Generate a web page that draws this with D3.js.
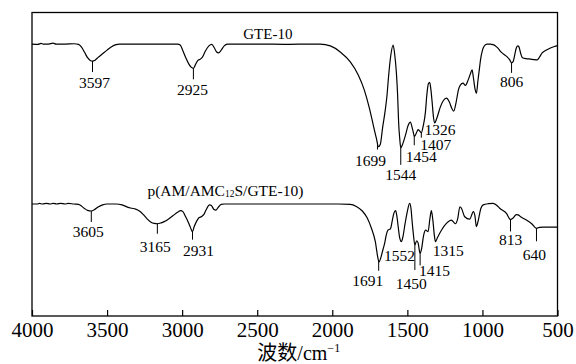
<!DOCTYPE html>
<html>
<head>
<meta charset="utf-8">
<script src="https://cdn.jsdelivr.net/npm/d3@7"></script>
<style>
  html, body { margin: 0; padding: 0; background: #fff; }
  svg { display: block; }
  text { font-family: "Liberation Serif", "Times New Roman", "Noto Sans CJK SC", serif; fill: #000; }
</style>
</head>
<body>
<svg id="chart" width="576" height="364"></svg>
<script>
// ---------------- data ----------------
const xTicks = [4000, 3500, 3000, 2500, 2000, 1500, 1000, 500];
const xTitle = "波数/cm";
const xTitleSup = "−1";

const seriesNames = ["GTE-10", "p(AM/AMC12S/GTE-10)"];

// [wavenumber (cm-1), transmittance (a.u.)]
const gteSpectrum = [
  [4000, 89.6], [3960, 89.5], [3940, 89.8], [3925, 89.6], [3890, 89.6], [3860, 89.9], [3840, 89.6],
  [3780, 89.6], [3720, 89.7], [3690, 89.5], [3670, 88.6], [3650, 86.9], [3630, 85.1], [3612, 84.2],
  [3597, 84.0], [3580, 84.3], [3560, 85.2], [3530, 86.4], [3500, 87.6], [3470, 88.7], [3440, 89.4],
  [3420, 89.6], [3200, 89.6], [3030, 89.6], [3013, 89.3], [2995, 87.4], [2975, 85.0], [2955, 83.0],
  [2940, 82.0], [2925, 81.6], [2910, 83.0], [2895, 84.2], [2880, 84.6], [2865, 85.3], [2845, 87.3],
  [2822, 89.0], [2802, 89.5], [2785, 88.3], [2770, 87.0], [2758, 86.7], [2740, 87.6], [2720, 89.0],
  [2700, 89.6], [2500, 89.6], [2300, 89.5], [2150, 89.6], [2080, 89.6], [2013, 89.0], [1947, 87.0],
  [1880, 83.7], [1827, 79.4], [1787, 74.5], [1753, 68.5], [1727, 62.9], [1707, 58.7], [1692, 55.8],
  [1680, 56.6], [1665, 62.0], [1647, 67.9], [1635, 73.0], [1625, 79.0], [1610, 86.0], [1595, 89.3],
  [1585, 86.5], [1573, 80.1], [1565, 73.0], [1558, 63.6], [1550, 58.0], [1544, 55.4], [1530, 56.8],
  [1513, 59.5], [1495, 62.8], [1480, 63.9], [1465, 61.5], [1452, 59.2], [1440, 60.3], [1428, 61.4],
  [1417, 60.9], [1407, 60.4], [1395, 62.5], [1380, 67.0], [1370, 73.0], [1360, 76.5], [1351, 77.0],
  [1343, 74.5], [1335, 70.5], [1326, 65.5], [1318, 63.6], [1305, 65.0], [1280, 68.9], [1260, 71.0],
  [1240, 71.8], [1220, 70.5], [1205, 68.5], [1191, 67.5], [1175, 70.5], [1160, 74.5], [1147, 76.1],
  [1129, 76.7], [1113, 76.0], [1095, 77.8], [1080, 79.8], [1069, 81.1], [1060, 78.5], [1050, 75.0],
  [1040, 73.4], [1030, 77.5], [1020, 81.5], [1013, 84.3], [1000, 87.5], [991, 88.7], [970, 89.6],
  [947, 89.6], [930, 89.4], [913, 89.0], [895, 88.2], [880, 87.2], [860, 86.3], [835, 85.4],
  [818, 84.4], [806, 83.4], [795, 83.9], [785, 86.0], [775, 88.2], [765, 89.0], [758, 88.8],
  [745, 86.5], [735, 85.2], [720, 84.9], [690, 84.7], [660, 84.5], [635, 84.4], [620, 85.3],
  [602, 86.7], [580, 87.5], [547, 88.3], [520, 88.8], [500, 89.1]
];

const copolymerSpectrum = [
  [4000, 36.9], [3965, 36.9], [3950, 37.1], [3930, 36.9], [3905, 37.1], [3880, 36.9], [3860, 37.1],
  [3835, 36.9], [3810, 37.1], [3780, 36.9], [3760, 37.1], [3720, 36.9], [3690, 36.8], [3670, 36.2],
  [3650, 35.4], [3630, 34.8], [3605, 34.6], [3585, 35.0], [3560, 35.9], [3530, 36.6], [3500, 36.9],
  [3440, 36.9], [3400, 36.6], [3360, 35.8], [3335, 35.5], [3310, 35.2], [3285, 34.6], [3260, 33.5],
  [3235, 32.1], [3210, 31.0], [3185, 30.5], [3165, 30.4], [3140, 30.7], [3120, 31.1], [3090, 32.0],
  [3060, 33.1], [3030, 34.2], [3010, 34.7], [2995, 34.4], [2980, 33.0], [2960, 31.0], [2945, 29.2],
  [2931, 27.8], [2920, 29.4], [2905, 31.1], [2890, 32.3], [2870, 32.8], [2855, 33.5], [2840, 35.0],
  [2818, 36.6], [2805, 36.4], [2790, 35.2], [2775, 34.9], [2760, 35.8], [2740, 36.8], [2720, 36.9],
  [2400, 36.9], [2100, 36.9], [1960, 36.9], [1880, 36.8], [1840, 36.1], [1800, 34.6], [1767, 32.3],
  [1740, 29.0], [1713, 24.4], [1698, 19.6], [1689, 17.8], [1675, 19.5], [1662, 22.0], [1651, 24.0],
  [1640, 26.8], [1629, 28.3], [1613, 28.7], [1600, 31.5], [1590, 33.8], [1578, 34.7], [1570, 33.0],
  [1560, 29.0], [1552, 26.0], [1540, 24.5], [1530, 26.0], [1515, 30.5], [1500, 34.5], [1485, 37.1],
  [1476, 35.5], [1468, 31.0], [1460, 27.0], [1450, 23.4], [1438, 24.8], [1428, 24.0], [1415, 20.6],
  [1405, 22.2], [1392, 26.5], [1378, 28.3], [1362, 27.8], [1350, 32.0], [1340, 34.7], [1330, 31.5],
  [1320, 26.5], [1313, 24.5], [1300, 25.8], [1270, 28.5], [1240, 30.5], [1207, 31.6], [1180, 30.4],
  [1165, 32.0], [1150, 36.0], [1140, 35.5], [1118, 32.7], [1085, 31.9], [1060, 34.4], [1050, 33.0],
  [1040, 29.4], [1030, 31.0], [1010, 35.5], [995, 36.6], [960, 37.0], [929, 37.1], [905, 36.5],
  [885, 35.5], [840, 33.8], [813, 31.8], [795, 32.3], [775, 33.4], [762, 33.3], [740, 32.5],
  [707, 31.6], [670, 30.3], [640, 28.9], [620, 29.2], [595, 29.3], [500, 29.3]
];

const gtePeaks = [3597, 2925, 1699, 1544, 1454, 1407, 1326, 806];
const copolymerPeaks = [3605, 3165, 2931, 1691, 1552, 1450, 1415, 1315, 813, 640];

// ---------------- layout (pixels) ----------------
const W = 576, H = 364;
const plot = { left: 32, right: 557.5, top: 12.5, bottom: 316 };
// tick: marker length below trace, base: text baseline below trace, dx: text shift
const gteLayout = {
  3597: { tick: 11, base: 27, dx: 2 },
  2925: { tick: 11, base: 27, dx: -1 },
  1699: { tick: 7, base: 23, dx: -7 },
  1544: { tick: 17, base: 32, dx: 0 },
  1454: { tick: 10, base: 27, dx: 7 },
  1407: { tick: 5, base: 17.5, dx: 14.5 },
  1326: { tick: 0, base: 18, dx: 6.5 },
  806:  { tick: 10, base: 24, dx: 0 }
};
const copolymerLayout = {
  3605: { tick: 11, base: 26, dx: -3 },
  3165: { tick: 10, base: 28.5, dx: -2 },
  2931: { tick: 8, base: 24.5, dx: 6 },
  1691: { tick: 10, base: 25.5, dx: -11 },
  1552: { tick: 0, base: 24, dx: 0 },
  1450: { tick: 25, base: 44, dx: -3.5 },
  1415: { tick: 12, base: 22.5, dx: 14.5 },
  1315: { tick: 0, base: 16.5, dx: 13 },
  813:  { tick: 12, base: 26, dx: 0 },
  640:  { tick: 13, base: 31.5, dx: -2 }
};

// ---------------- drawing ----------------
const svg = d3.select("#chart");

const x = d3.scaleLinear().domain([4000, 500]).range([plot.left, plot.right]);
const y = d3.scaleLinear().domain([0, 100]).range([plot.bottom, plot.top]);

const line = d3.line()
  .x(d => x(d[0]))
  .y(d => y(d[1]))
  .curve(d3.curveMonotoneX);

function valueAt(series, wn) {
  for (let i = 0; i < series.length - 1; i++) {
    const a = series[i], b = series[i + 1];
    if (wn <= a[0] && wn >= b[0]) {
      const t = (a[0] - wn) / (a[0] - b[0]);
      return a[1] + t * (b[1] - a[1]);
    }
  }
  return series[series.length - 1][1];
}

[gteSpectrum, copolymerSpectrum].forEach(s => {
  svg.append("path")
    .datum(s)
    .attr("d", line)
    .attr("fill", "none")
    .attr("stroke", "#000")
    .attr("stroke-width", 1.2)
    .attr("stroke-linejoin", "round");
});

function annotate(series, peaks, layout) {
  const g = svg.append("g");
  peaks.forEach(p => {
    const L = layout[p];
    const px = x(p);
    const py = y(valueAt(series, p));
    if (L.tick > 0) {
      g.append("line")
        .attr("x1", px).attr("x2", px)
        .attr("y1", py).attr("y2", py + L.tick)
        .attr("stroke", "#000").attr("stroke-width", 1);
    }
    g.append("text")
      .attr("x", px + L.dx)
      .attr("y", py + L.base)
      .attr("text-anchor", "middle")
      .attr("font-size", 15.5)
      .text(p);
  });
}
annotate(gteSpectrum, gtePeaks, gteLayout);
annotate(copolymerSpectrum, copolymerPeaks, copolymerLayout);

// series names
svg.append("text")
  .attr("x", x(2593)).attr("y", 38.5)
  .attr("font-size", 15)
  .text(seriesNames[0]);

const name2 = svg.append("text")
  .attr("x", x(3231)).attr("y", 195.5)
  .attr("font-size", 15.5);
name2.append("tspan").text("p(AM/AMC");
name2.append("tspan").attr("font-size", 9.5).attr("dy", 1).text("12");
name2.append("tspan").attr("dy", -1).text("S/GTE-10)");

// frame
svg.append("rect")
  .attr("x", plot.left).attr("y", plot.top)
  .attr("width", plot.right - plot.left)
  .attr("height", plot.bottom - plot.top)
  .attr("fill", "none")
  .attr("stroke", "#000")
  .attr("stroke-width", 1.3);

// x axis
const axis = d3.axisBottom(x)
  .tickValues(xTicks)
  .tickFormat(d3.format("d"))
  .tickSizeInner(-6)
  .tickSizeOuter(0)
  .tickPadding(6.5);

const ax = svg.append("g")
  .attr("transform", `translate(0,${plot.bottom})`)
  .call(axis);
ax.select(".domain").remove();
ax.selectAll(".tick line").attr("stroke", "#000").attr("stroke-width", 1.2);
ax.selectAll(".tick text")
  .attr("font-size", 21)
  .attr("font-family", "Liberation Serif, serif")
  .attr("fill", "#000");

// x title
const t = svg.append("text")
  .attr("x", (plot.left + plot.right) / 2 + 4)
  .attr("y", 360)
  .attr("text-anchor", "middle")
  .attr("font-size", 20);
t.append("tspan").text(xTitle);
t.append("tspan").attr("font-size", 12).attr("dy", -8).text(xTitleSup);
</script>
</body>
</html>
